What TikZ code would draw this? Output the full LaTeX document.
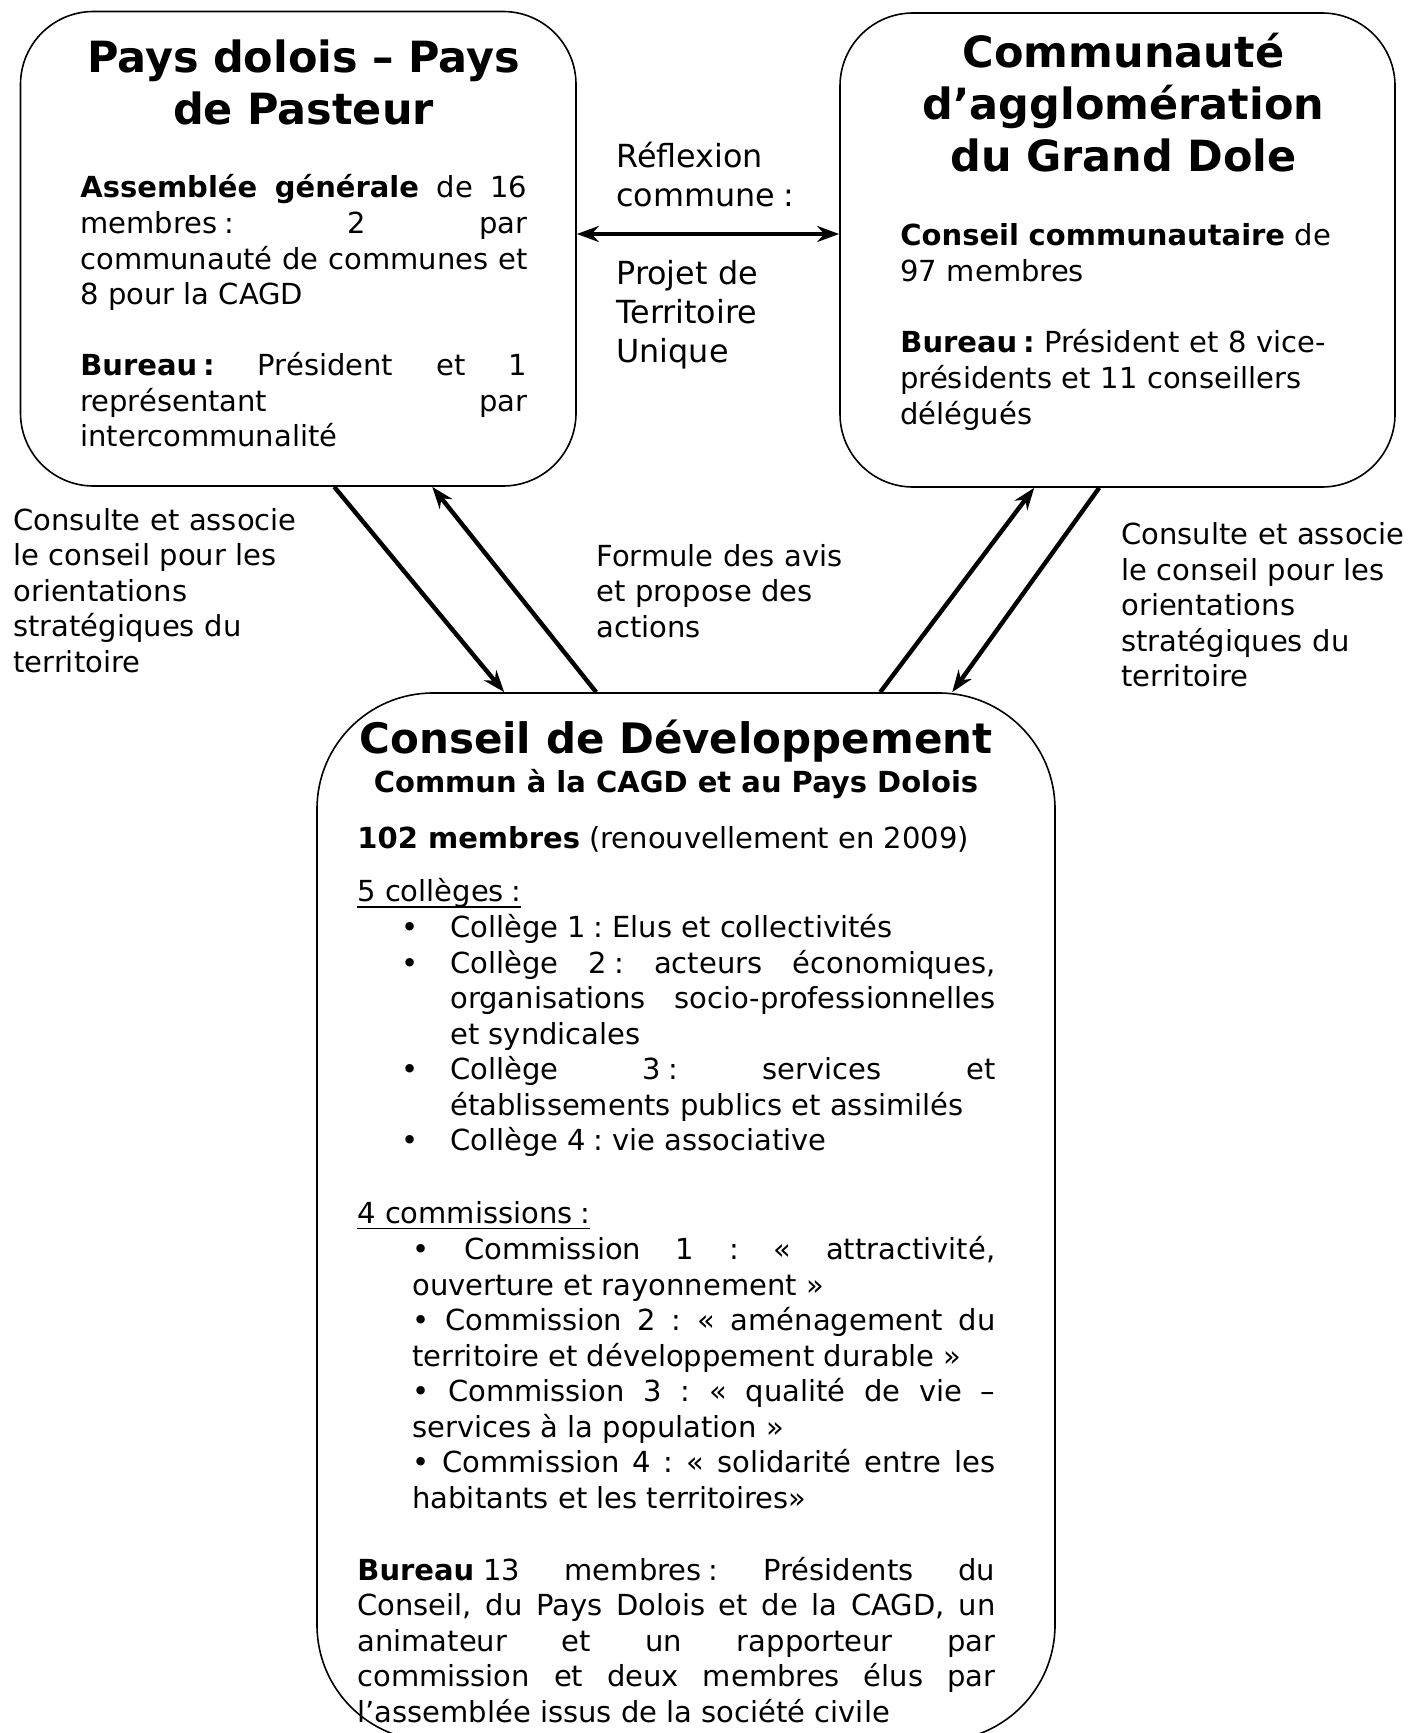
\documentclass[tikz,border=0pt]{standalone}
\usepackage{fontspec}
\setmainfont{DejaVu Sans}
\usetikzlibrary{arrows.meta,calc}
\frenchspacing
\newcommand\bodysize{\fontsize{14.5pt}{17.78pt}\selectfont}
\newcommand\titlesize{\fontsize{21.5pt}{26pt}\selectfont\bfseries}
\newcommand\midsize{\fontsize{15.9pt}{19.5pt}\selectfont}
% justified line of given width / natural line
\newcommand\JL[2]{\hbox to #1{\spaceskip=.32em plus 1fil minus .12em\relax\xspaceskip=\spaceskip #2}}
\newcommand\NL[1]{\hbox{#1}}
\newcommand\bul{\llap{\makebox[24.25pt][l]{•}}}
\newcommand\myul[1]{\setbox0\hbox{#1}\rlap{\rule[-3pt]{\wd0}{0.75pt}}\box0}
\begin{document}
\begin{tikzpicture}[x=0.5pt,y=-0.5pt,
  rbox/.style={draw, line width=0.8pt, rectangle, inner sep=0pt},
  txt/.style={inner sep=0pt, anchor=base west, font=\bodysize},
  ttl/.style={inner sep=0pt, anchor=base, align=center, font=\titlesize},
  arr/.style={line width=2.2pt, -{Stealth[length=11pt,width=8pt]}},
  darr/.style={line width=2.2pt, {Stealth[length=11pt,width=8pt]}-{Stealth[length=11pt,width=8pt]}}]
\useasboundingbox (0,0) rectangle (1407,1733);
\clip (0,0) rectangle (1407,1733);
\fill[white] (0,0) rectangle (1407,1733);

% boxes
\node[rbox, rounded corners=36.5pt, minimum width=277.75pt, minimum height=237.25pt] (pd) at (298.25,248.75) {};
\node[rbox, rounded corners=36.5pt, minimum width=277.5pt, minimum height=237pt] (ca) at (1117.5,250) {};
\node[rbox, rounded corners=58pt, minimum width=369pt, minimum height=524pt] (cd) at (686,1217) {};

% Pays dolois box
\node[ttl, text width=223.5pt] (pdt) at (303.5,73) {Pays dolois – Pays\\de Pasteur};
\node[txt] (pda) at (80,198) {\vtop{%
\JL{223.5pt}{\textbf{Assemblée générale} de 16}
\JL{223.5pt}{membres\kern.25em: 2 par}
\JL{223.5pt}{communauté de communes et}
\NL{8 pour la CAGD}}};
\node[txt] (pdb) at (80,375.5) {\vtop{%
\JL{223.5pt}{\textbf{Bureau\kern.2em:} Président et 1}
\JL{223.5pt}{représentant par}
\NL{intercommunalité}}};

% CAGD box
\node[ttl, text width=223.5pt] (cat) at (1123.5,68) {Communauté\\d’agglomération\\du Grand Dole};
\node[txt, text width=223.5pt] (caa) at (900,246) {\textbf{Conseil communautaire} de\\97 membres};
\node[txt, text width=223.5pt] (cab) at (900,353) {\textbf{Bureau\kern.2em:} Président et 8 vice-\\présidents et 11 conseillers\\délégués};

% labels between the boxes
\node[txt, font=\midsize, text width=150pt] (refl) at (616,168) {Réflexion\\commune\kern.25em:};
\node[txt, font=\midsize, text width=150pt] (proj) at (616,284.5) {Projet de\\Territoire\\Unique};
\node[txt, text width=160pt] (lcl) at (13,530) {Consulte et associe\\le conseil pour les\\orientations\\stratégiques du\\territoire};
\node[txt, text width=160pt] (rcl) at (1121,544.5) {Consulte et associe\\le conseil pour les\\orientations\\stratégiques du\\territoire};
\node[txt, text width=160pt] (mcl) at (596,566) {Formule des avis\\et propose des\\actions};

% Conseil de developpement box
\node[inner sep=0pt, anchor=base, font={\fontsize{21pt}{26pt}\selectfont\bfseries}] (cdt) at (676,753) {Conseil de Développement};
\node[inner sep=0pt, anchor=base, font=\bodysize] (cds) at (676,792) {\textbf{Commun à la CAGD et au Pays Dolois}};
\node[txt] (cdm) at (357,848) {\textbf{102 membres} (renouvellement en 2009)};
\node[txt] (cdc) at (357,901.5) {\myul{5 collèges\kern.25em:}};
\node[txt] (cdl) at (450,937.5) {\vtop{%
\NL{\bul Collège 1\kern.25em: Elus et collectivités}
\JL{272.5pt}{\bul Collège 2\kern.25em: acteurs économiques,}
\JL{272.5pt}{organisations socio-professionnelles}
\NL{et syndicales}
\JL{272.5pt}{\bul Collège 3\kern.25em: services et}
\NL{établissements publics et assimilés}
\NL{\bul Collège 4\kern.25em: vie associative}}};
\node[txt] (cdk) at (357,1223) {\myul{4 commissions\kern.25em:}};
\node[txt] (cdo) at (412,1259.5) {\vtop{%
\JL{291.5pt}{• Commission 1 : « attractivité,}
\NL{ouverture et rayonnement »}
\JL{291.5pt}{• Commission 2 : « aménagement du}
\NL{territoire et développement durable »}
\JL{291.5pt}{• Commission 3 : « qualité de vie –}
\NL{services à la population »}
\JL{291.5pt}{• Commission 4 : « solidarité entre les}
\NL{habitants et les territoires»}}};
\node[txt] (cdb) at (357,1580) {\vtop{%
\JL{319pt}{\textbf{Bureau}\kern.3em 13 membres\kern.25em: Présidents du}
\JL{319pt}{Conseil, du Pays Dolois et de la CAGD, un}
\JL{319pt}{animateur et un rapporteur par}
\JL{319pt}{commission et deux membres élus par}
\NL{l’assemblée issus de la société civile}}};

% connectors
\coordinate (mid) at (700,234);
\draw[darr] (pd.east |- mid) -- (ca.west |- mid);
\draw[arr] ($(pd.south west)+(314.5,0)$) -- ($(cd.north west)+(188,0)$);
\draw[arr] ($(cd.north west)+(280,0)$) -- ($(pd.south west)+(412.5,0)$);
\draw[arr] ($(cd.north west)+(564,0)$) -- ($(ca.south west)+(195,0)$);
\draw[arr] ($(ca.south west)+(260,0)$) -- ($(cd.north west)+(636,0)$);
\end{tikzpicture}
\end{document}
